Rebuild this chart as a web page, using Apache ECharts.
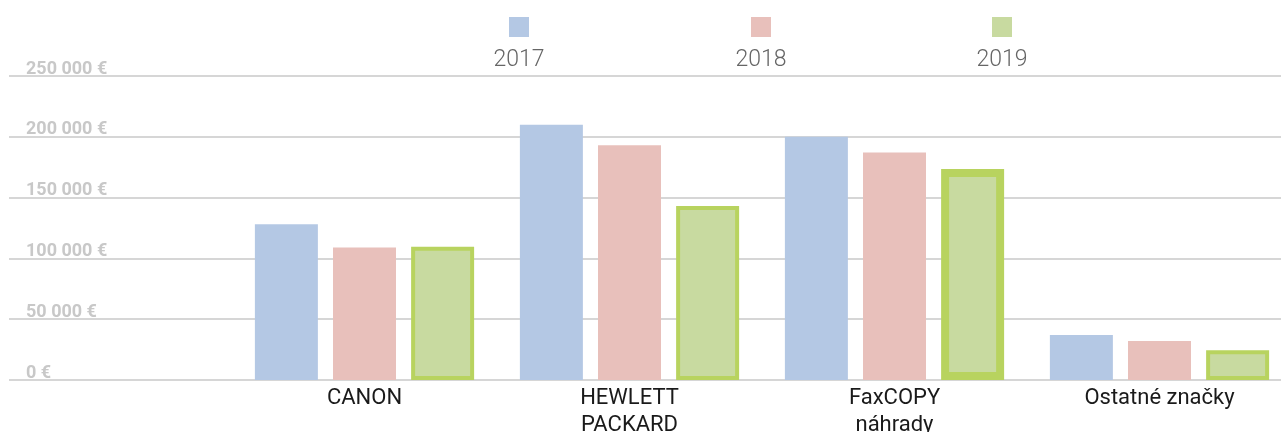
<!DOCTYPE html>
<html>
<head>
<meta charset="utf-8">
<script src="https://cdn.jsdelivr.net/npm/echarts@6/dist/echarts.min.js"></script>
<style>
  html, body { margin: 0; padding: 0; background: #fff; }
  #chart { width: 1281px; height: 432px; }
</style>
</head>
<body>
<div id="chart"></div>
<script>
// data
var categories = ['CANON', 'HEWLETT\nPACKARD', 'FaxCOPY\nnáhrady', 'Ostatné značky']
var years = ['2017', '2018', '2019']
var values2017 = [128000, 210000, 200000, 37000]
var values2018 = [109000, 193000, 187000, 32000]
var values2019 = [109500, 143000, 173500, 24500]
var yTicks = [0, 50000, 100000, 150000, 200000, 250000]

var colors = ['#b4c8e4', '#e8c0bb', '#c8daa0']
var greenBorder = '#b8d35f'
var legendLeft = [509, 751, 992]

function fmtEuro(v) {
    return String(v).replace(/\B(?=(\d{3})+(?!\d))/g, ' ') + ' €'
}

var draw = echarts.init(document.getElementById('chart'))

// one legend per year (icon only), year written underneath with graphic text
var legends = years.map(function (y, i) {
    return {
        data: [{ name: y, icon: 'rect', itemStyle: { borderWidth: 0 } }],
        left: legendLeft[i],
        top: 17,
        padding: 0,
        itemWidth: 20,
        itemHeight: 20,
        selectedMode: false,
        formatter: function () { return '' }
    }
})

var legendTexts = years.map(function (y, i) {
    return {
        type: 'text',
        x: legendLeft[i] + 10,
        y: 60,
        style: {
            text: y,
            align: 'center',
            verticalAlign: 'middle',
            fontFamily: 'Roboto',
            fontWeight: 300,
            fontSize: 23,
            fill: '#666'
        }
    }
})

draw.setOption({
    animation: false,
    color: colors,
    legend: legends,
    graphic: legendTexts,
    grid: [
        { left: 9, right: 0, top: 76, bottom: 52, outerBoundsMode: 'none' },
        { left: 232, width: 1060, top: 76, bottom: 52, outerBoundsMode: 'none' }
    ],
    xAxis: [
        { gridIndex: 0, type: 'value', min: 0, max: 1, show: false },
        {
            gridIndex: 1,
            type: 'category',
            data: categories,
            axisLine: { show: false },
            axisTick: { show: false },
            axisLabel: {
                interval: 0,
                margin: 5,
                fontFamily: 'Roboto',
                fontSize: 22,
                lineHeight: 27,
                color: '#1a1a1a'
            }
        }
    ],
    yAxis: [
        {
            gridIndex: 0,
            type: 'value',
            min: yTicks[0],
            max: yTicks[yTicks.length - 1],
            interval: yTicks[1] - yTicks[0],
            axisLine: { show: false },
            axisTick: { show: false },
            splitLine: { lineStyle: { color: '#d6d6d6', width: 2 } },
            axisLabel: {
                inside: true,
                margin: 17,
                verticalAlign: 'bottom',
                lineHeight: 14,
                fontFamily: 'Roboto',
                fontWeight: 'bold',
                fontSize: 18,
                color: '#c8c8c8',
                formatter: fmtEuro
            }
        },
        {
            gridIndex: 1,
            type: 'value',
            min: yTicks[0],
            max: yTicks[yTicks.length - 1],
            show: false
        }
    ],
    series: [
        {
            name: years[0], type: 'bar', xAxisIndex: 1, yAxisIndex: 1,
            barWidth: 63, barGap: '24%',
            itemStyle: { color: colors[0] },
            data: values2017
        },
        {
            name: years[1], type: 'bar', xAxisIndex: 1, yAxisIndex: 1,
            barWidth: 63, barGap: '24%',
            itemStyle: { color: colors[1] },
            data: values2018
        },
        {
            name: years[2], type: 'bar', xAxisIndex: 1, yAxisIndex: 1,
            barWidth: 63, barGap: '24%',
            itemStyle: { color: colors[2], borderColor: greenBorder, borderWidth: 4 },
            data: values2019.map(function (v, i) {
                // FaxCOPY bar has a heavier outline in the original
                return i === 2 ? { value: v, itemStyle: { borderWidth: 8 } } : v
            })
        }
    ]
})
</script>
</body>
</html>
